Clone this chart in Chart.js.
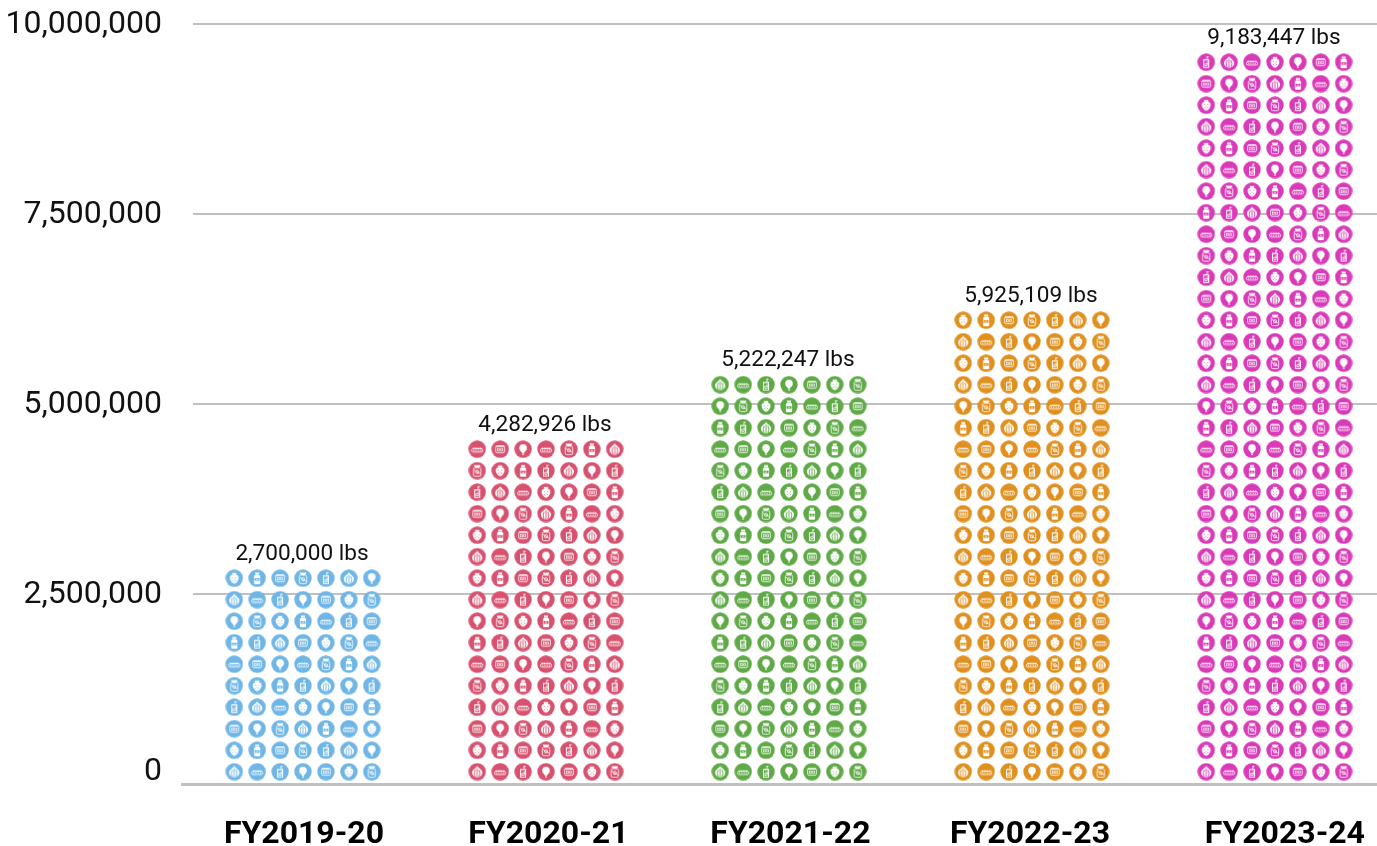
<!DOCTYPE html>
<html>
<head>
<meta charset="utf-8">
<style>html,body{margin:0;padding:0;background:#fff}canvas{display:block}</style>
<script src="https://cdn.jsdelivr.net/npm/chart.js@4"></script>
</head>
<body>
<canvas id="c" width="1377" height="846"></canvas>
<script>
const categories = ['FY2019-20','FY2020-21','FY2021-22','FY2022-23','FY2023-24'];
const poundsValues = [2700000,4282926,5222247,5925109,9183447];
const seriesColors = ['#6fb6e7','#d8526f','#5fa947','#e0901f','#da3ab8'];
const yTickValues = [0,2500000,5000000,7500000,10000000];
// one row of icons stands for this many pounds
const poundsPerRow = 270000;
// icon keys, bottom row first; the block repeats every ten rows
const iconRows = ['OECPTSJ','SBTJCOP','TPJOBES','COESPTB','JSBCOPC','ETPEJBO','BCOTSJE','PJSBECT','OECPTSJ','SBTJCOP'];
const labelNudge = [0.004,0.010,0.006,-0.008,0.041];

const ICON_D = 17.4, SIZE = 18;
const painters = {
  S(g,bg){ // strawberry
    g.beginPath();g.moveTo(9,14.8);g.bezierCurveTo(4.8,12.5,3.8,8.5,5.2,6.4);g.quadraticCurveTo(9,4.6,12.8,6.4);g.bezierCurveTo(14.2,8.5,13.2,12.5,9,14.8);g.fill();
    g.fillRect(6.8,3.8,4.4,2);
    g.fillStyle=bg;[[6.8,8],[10.4,8],[8.6,9.8],[6.9,11.2],[10.2,11.2],[8.6,12.6]].forEach(p=>g.fillRect(p[0],p[1],.8,.8));
  },
  B(g,bg){ // bottle
    g.fillRect(7,3.4,4,2.2);g.beginPath();g.roundRect(5.9,6,6.2,8.9,1);g.fill();
    g.fillStyle=bg;g.fillRect(6.5,9,5,2.6);
    g.fillStyle='#fff';g.fillRect(8.3,9.8,1.4,1);
  },
  T(g,bg){ // tin
    g.lineWidth=.8;
    g.beginPath();g.roundRect(4.6,5.6,8.8,7,1.6);g.stroke();
    g.fillRect(4.8,5.6,8.4,1.1);
    g.lineWidth=.7;g.strokeRect(6.6,8.2,4.8,2.6);
    g.beginPath();g.moveTo(7.8,9.5);g.lineTo(10.2,9.5);g.stroke();
  },
  J(g,bg){ // jar
    g.lineWidth=.8;
    g.beginPath();g.roundRect(5.3,6,7.4,8.5,1.5);g.stroke();
    g.fillRect(5.9,3.5,6.2,1.5);g.fillRect(6.8,5,4.4,.9);
    g.beginPath();g.moveTo(5.8,8.2);g.lineTo(12.2,12.2);g.stroke();
    g.beginPath();g.arc(9,10.2,1.6,0,7);g.stroke();
  },
  C(g,bg){ // carton
    g.fillRect(6,6.2,6,8.6);g.fillRect(9.5,3.4,.9,3);g.fillRect(9.5,3.2,2,.9);
    g.fillStyle=bg;g.fillRect(7,7.4,4,6.4);
    g.fillStyle='#fff';g.beginPath();g.arc(9,11.4,1.7,0,7);g.fill();g.fillRect(9.7,8.2,.9,3);
    g.fillStyle=bg;g.beginPath();g.arc(9,11.4,.8,0,7);g.fill();
  },
  O(g,bg){ // onion
    g.beginPath();g.moveTo(9,3.3);g.bezierCurveTo(6.6,6.2,3.7,7.4,3.9,10);g.bezierCurveTo(4.1,13,7,14.6,9,14.6);g.bezierCurveTo(11,14.6,13.9,13,14.1,10);g.bezierCurveTo(14.3,7.4,11.4,6.2,9,3.3);g.fill();
    g.strokeStyle=bg;g.lineWidth=.9;g.beginPath();g.moveTo(9,5.5);g.lineTo(9,14.2);g.moveTo(7.2,7);g.quadraticCurveTo(5.2,10.5,7,14);g.moveTo(10.8,7);g.quadraticCurveTo(12.8,10.5,11,14);g.stroke();
  },
  P(g,bg){ // pear / bulb
    g.beginPath();g.arc(9,7.8,3.8,0,7);g.fill();
    g.beginPath();g.moveTo(6.4,10.4);g.lineTo(8.2,13);g.lineTo(9.8,13);g.lineTo(11.6,10.4);g.fill();
    g.fillRect(8.2,13.4,1.6,1.4);
  },
  E(g,bg){ // egg tray / loaf
    g.lineWidth=.8;
    [5.4,7.8,10.2,12.6].forEach(x=>{g.beginPath();g.arc(x,8.7,1.3,Math.PI,0);g.fill();});
    g.beginPath();g.roundRect(3.4,8.7,11.2,3.2,1.5);g.stroke();
    g.fillRect(5,9.9,1.2,.8);g.fillRect(7.2,9.9,1.2,.8);g.fillRect(9.6,9.9,1.2,.8);g.fillRect(11.8,9.9,1.2,.8);
  }
};
function sprite(color,key){
  const cv=document.createElement('canvas');cv.width=cv.height=SIZE;
  const g=cv.getContext('2d');
  g.fillStyle=color;g.beginPath();g.arc(SIZE/2,SIZE/2,ICON_D/2,0,7);g.fill();
  g.fillStyle='#fff';g.strokeStyle='#fff';g.lineWidth=1;
  painters[key](g,color);
  return cv;
}
const sprites = seriesColors.map(col=>{const m={};Object.keys(painters).forEach(k=>m[k]=sprite(col,k));return m;});

// grid of icons in axis units
const COL_STEP = 0.0943, ROW_STEP = 282900, ROW_START = 162000;
const datasets = categories.map((cat,i)=>{
  const rows = Math.round(poundsValues[i]/poundsPerRow);
  const data=[],styles=[];
  for(let r=0;r<rows;r++){
    const keys=iconRows[r%iconRows.length];
    for(let c=0;c<7;c++){
      data.push({x:i+(c-3)*COL_STEP,y:ROW_START+r*ROW_STEP});
      styles.push(sprites[i][keys[c]]);
    }
  }
  return {label:cat,data,pointStyle:styles,pointRadius:9,pointHoverRadius:9,showLine:false,clip:false};
});

const fmt = v => v.toLocaleString('en-US');
const valueLabels = {
  id:'valueLabels',
  afterDatasetsDraw(chart){
    const ctx=chart.ctx;
    ctx.save();
    ctx.font='22.6px Roboto';ctx.fillStyle='#111';ctx.textAlign='center';ctx.textBaseline='middle';
    datasets.forEach((d,i)=>{
      const meta=chart.getDatasetMeta(i);
      const top=meta.data[meta.data.length-4];
      ctx.fillText(fmt(poundsValues[i])+' lbs',top.x-1,top.y-24);
    });
    ctx.restore();
  }
};

new Chart(document.getElementById('c'),{
  type:'scatter',
  data:{datasets},
  plugins:[valueLabels],
  options:{
    responsive:false,animation:false,
    layout:{autoPadding:false,padding:{top:24,left:0,right:0,bottom:0}},
    plugins:{legend:{display:false},tooltip:{enabled:false}},
    scales:{
      x:{
        type:'linear',min:-0.4527,max:4.42,
        border:{display:false},grid:{display:false},
        afterBuildTicks:a=>{a.ticks=categories.map((c,i)=>({value:i+labelNudge[i]}));},
        afterFit:s=>{s.height=62;s.paddingLeft=0;s.paddingRight=0;},
        ticks:{autoSkip:false,maxRotation:0,padding:24,color:'#000',
          font:{family:'Roboto',size:32,weight:'bold'},
          callback:(v,i)=>categories[i]}
      },
      y:{
        min:0,max:10000000,
        border:{display:false},
        afterBuildTicks:a=>{a.ticks=yTickValues.map(v=>({value:v}));},
        afterFit:s=>{s.width=193;s.paddingTop=0;s.paddingBottom=0;},
        grid:{color:'#c0c0c0',lineWidth:c=>c.tick&&c.tick.value===0?3:2,drawTicks:true,tickLength:12,
          tickColor:c=>c.tick&&c.tick.value===0?'#c0c0c0':'rgba(0,0,0,0)',tickWidth:3},
        ticks:{padding:19,labelOffset:1,color:'#111',font:{family:'Roboto',size:32,lineHeight:0.84},
          callback:v=>v===0?['0','']:fmt(v)}
      }
    }
  }
});
</script>
</body>
</html>
